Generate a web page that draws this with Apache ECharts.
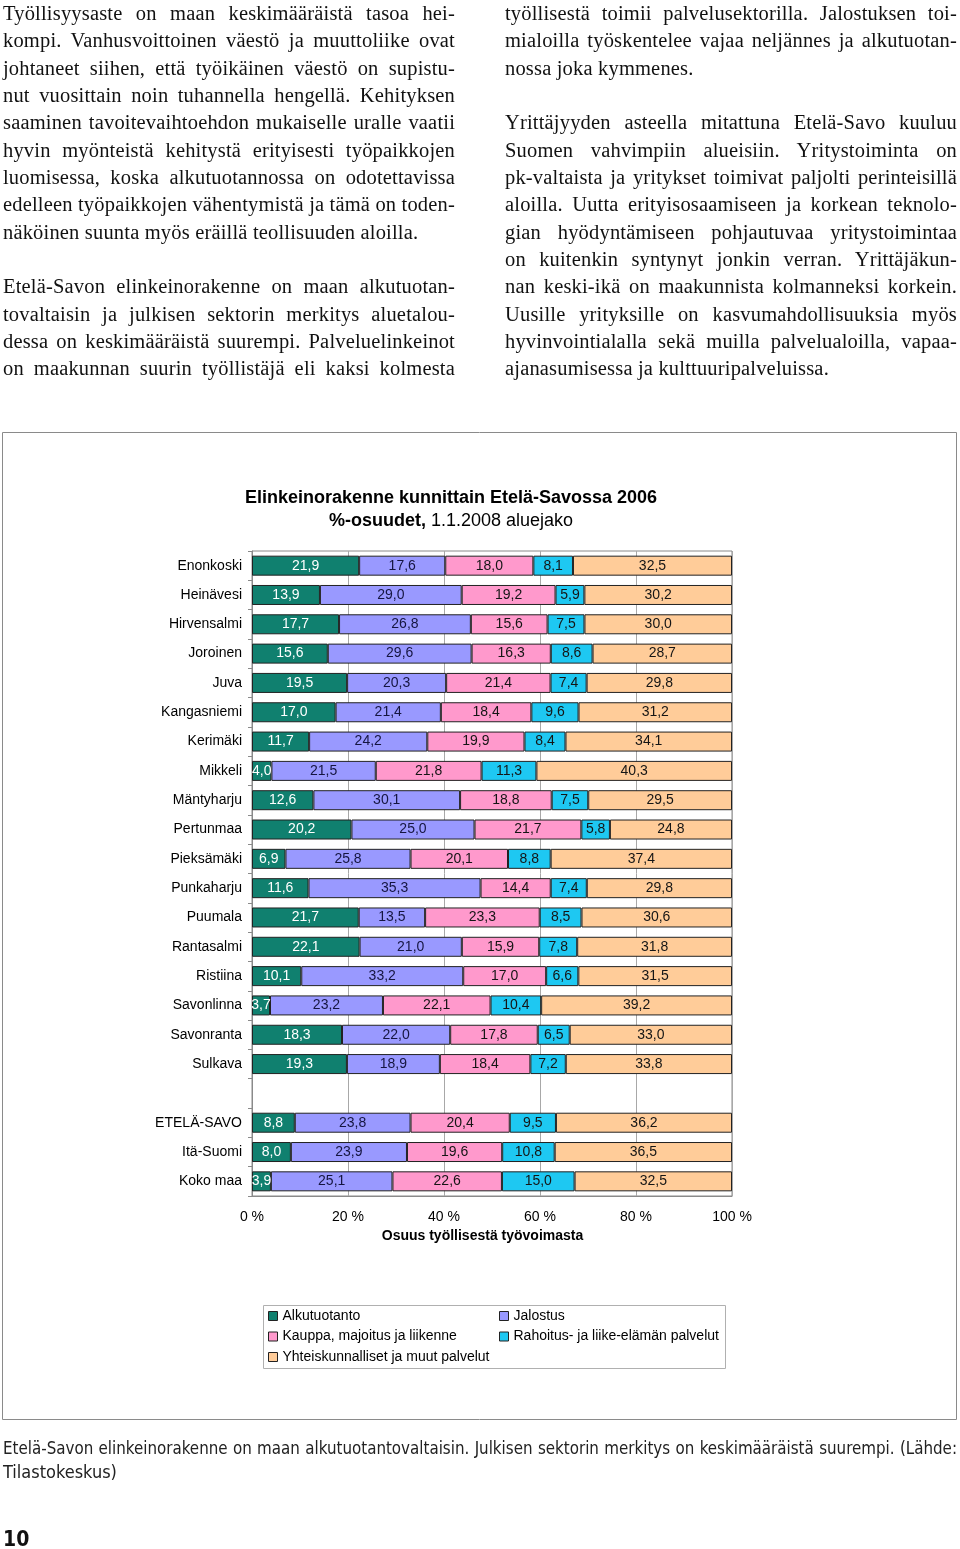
<!DOCTYPE html>
<html>
<head>
<meta charset="utf-8">
<script src="https://cdn.jsdelivr.net/npm/echarts@6/dist/echarts.min.js"></script>
<style>
  html, body { margin:0; padding:0; background:#fff; }
  body { width:960px; height:1549px; position:relative; overflow:hidden; }
  #chart { position:absolute; left:0; top:0; width:960px; height:1549px; }
  .col { position:absolute; top:0; font-family:"Liberation Serif","DejaVu Serif",serif; font-size:20.5px; line-height:27.33px; color:#111; }
  .ln { white-space:nowrap; height:27.33px; text-align:left; }
  .ln.just { text-align:justify; text-align-last:justify; }
  .blank { height:27.33px; }
  .cap { position:absolute; left:3px; width:954px; top:1437px; font-family:"Liberation Sans Narrow","DejaVu Sans Condensed","Liberation Sans",sans-serif; font-size:18px; line-height:23px; color:#222; }
  .pg { position:absolute; left:3px; top:1527px; font-family:"Liberation Sans Narrow","DejaVu Sans Condensed","Liberation Sans",sans-serif; font-weight:bold; font-size:21px; color:#111; }
</style>
</head>
<body>
<div id="chart"></div>

<div class="col" style="left:3px;width:452px;">
  <div class="ln j"><span>Työllisyysaste on maan keskimääräistä tasoa hei-</span></div>
  <div class="ln j"><span>kompi. Vanhusvoittoinen väestö ja muuttoliike ovat</span></div>
  <div class="ln j"><span>johtaneet siihen, että työikäinen väestö on supistu-</span></div>
  <div class="ln j"><span>nut vuosittain noin tuhannella hengellä. Kehityksen</span></div>
  <div class="ln j"><span>saaminen tavoitevaihtoehdon mukaiselle uralle vaatii</span></div>
  <div class="ln j"><span>hyvin myönteistä kehitystä erityisesti työpaikkojen</span></div>
  <div class="ln j"><span>luomisessa, koska alkutuotannossa on odotettavissa</span></div>
  <div class="ln j"><span>edelleen työpaikkojen vähentymistä ja tämä on toden-</span></div>
  <div class="ln"><span>näköinen suunta myös eräillä teollisuuden aloilla.</span></div>
  <div class="blank"></div>
  <div class="ln j"><span>Etelä-Savon elinkeinorakenne on maan alkutuotan-</span></div>
  <div class="ln j"><span>tovaltaisin ja julkisen sektorin merkitys aluetalou-</span></div>
  <div class="ln j"><span>dessa on keskimääräistä suurempi. Palveluelinkeinot</span></div>
  <div class="ln j"><span>on maakunnan suurin työllistäjä eli kaksi kolmesta</span></div>
</div>

<div class="col" style="left:505px;width:452px;">
  <div class="ln j"><span>työllisestä toimii palvelusektorilla. Jalostuksen toi-</span></div>
  <div class="ln j"><span>mialoilla työskentelee vajaa neljännes ja alkutuotan-</span></div>
  <div class="ln"><span>nossa joka kymmenes.</span></div>
  <div class="blank"></div>
  <div class="ln j"><span>Yrittäjyyden asteella mitattuna Etelä-Savo kuuluu</span></div>
  <div class="ln j"><span>Suomen vahvimpiin alueisiin. Yritystoiminta on</span></div>
  <div class="ln j"><span>pk-valtaista ja yritykset toimivat paljolti perinteisillä</span></div>
  <div class="ln j"><span>aloilla. Uutta erityisosaamiseen ja korkean teknolo-</span></div>
  <div class="ln j"><span>gian hyödyntämiseen pohjautuvaa yritystoimintaa</span></div>
  <div class="ln j"><span>on kuitenkin syntynyt jonkin verran. Yrittäjäkun-</span></div>
  <div class="ln j"><span>nan keski-ikä on maakunnista kolmanneksi korkein.</span></div>
  <div class="ln j"><span>Uusille yrityksille on kasvumahdollisuuksia myös</span></div>
  <div class="ln j"><span>hyvinvointialalla sekä muilla palvelualoilla, vapaa-</span></div>
  <div class="ln"><span>ajanasumisessa ja kulttuuripalveluissa.</span></div>
</div>

<div class="cap">
  <div class="ln j cj" style="height:23px"><span>Etelä-Savon elinkeinorakenne on maan alkutuotantovaltaisin. Julkisen sektorin merkitys on keskimääräistä suurempi. (Lähde:</span></div>
  <div class="ln" style="height:23px"><span>Tilastokeskus)</span></div>
</div>
<div class="pg">10</div>

<script>
// ---- data ----
const categories = ['Enonkoski','Heinävesi','Hirvensalmi','Joroinen','Juva','Kangasniemi','Kerimäki','Mikkeli','Mäntyharju','Pertunmaa','Pieksämäki','Punkaharju','Puumala','Rantasalmi','Ristiina','Savonlinna','Savonranta','Sulkava','','ETELÄ-SAVO','Itä-Suomi','Koko maa'];
const alkutuotanto      = [21.9,13.9,17.7,15.6,19.5,17.0,11.7, 4.0,12.6,20.2, 6.9,11.6,21.7,22.1,10.1, 3.7,18.3,19.3,null, 8.8, 8.0, 3.9];
const jalostus          = [17.6,29.0,26.8,29.6,20.3,21.4,24.2,21.5,30.1,25.0,25.8,35.3,13.5,21.0,33.2,23.2,22.0,18.9,null,23.8,23.9,25.1];
const kauppa            = [18.0,19.2,15.6,16.3,21.4,18.4,19.9,21.8,18.8,21.7,20.1,14.4,23.3,15.9,17.0,22.1,17.8,18.4,null,20.4,19.6,22.6];
const rahoitus          = [ 8.1, 5.9, 7.5, 8.6, 7.4, 9.6, 8.4,11.3, 7.5, 5.8, 8.8, 7.4, 8.5, 7.8, 6.6,10.4, 6.5, 7.2,null, 9.5,10.8,15.0];
const yhteiskunnalliset = [32.5,30.2,30.0,28.7,29.8,31.2,34.1,40.3,29.5,24.8,37.4,29.8,30.6,31.8,31.5,39.2,33.0,33.8,null,36.2,36.5,32.5];
const seriesNames = ['Alkutuotanto','Jalostus','Kauppa, majoitus ja liikenne','Rahoitus- ja liike-elämän palvelut','Yhteiskunnalliset ja muut palvelut'];
const xTicks = [0,20,40,60,80,100];

// prose: common letter-spacing so the tightest justified line fills the column, then justify
(function () {
  const lines = Array.from(document.querySelectorAll('.col .ln'));
  const jl = lines.filter(d => d.classList.contains('j'));
  let ls = 10;
  jl.forEach(d => {
    const s = d.firstElementChild;
    const n = s.textContent.length;
    const w = s.getBoundingClientRect().width;
    ls = Math.min(ls, (d.clientWidth - w) / n);
  });
  ls = Math.max(-1, Math.min(ls, 1.2));
  lines.forEach(d => { d.style.letterSpacing = ls + 'px'; });
  // safety: shrink any line that still overflows
  lines.forEach(d => {
    const s = d.firstElementChild; let fs = 20.5, g = 0;
    while (s.getBoundingClientRect().width > d.clientWidth + 0.5 && g < 40) { fs -= 0.2; d.style.fontSize = fs + 'px'; g++; }
  });
  // caption
  document.querySelectorAll('.cap .ln').forEach(d => {
    const s = d.firstElementChild; let fs = 18, g = 0;
    while (s.getBoundingClientRect().width > d.clientWidth && g < 40) { fs -= 0.2; d.style.fontSize = fs + 'px'; g++; }
  });
  document.querySelectorAll('.ln.j').forEach(d => d.classList.add('just'));
})();

const raw = [alkutuotanto, jalostus, kauppa, rahoitus, yhteiskunnalliset];
const totals = categories.map((c, i) => raw.reduce((a, arr) => a + (arr[i] || 0), 0));
const colors = ['#10806f','#9999ff','#ff99cc','#1ec8f2','#ffcc99'];
const labelColors = ['#ffffff','#151540','#151515','#151515','#151515'];
const FONT = '"Liberation Sans", Arial, sans-serif';

const chart = echarts.init(document.getElementById('chart'), null, {renderer:'canvas'});
const series = raw.map((arr, si) => ({
  name: seriesNames[si],
  type: 'bar',
  stack: 'total',
  barWidth: 20,
  data: arr.map((v, i) => v == null ? null : v / totals[i] * 100),
  itemStyle: { color: colors[si], borderColor: '#222', borderWidth: 1 },
  label: {
    show: true, position: 'inside',
    fontFamily: FONT, fontSize: 14, color: labelColors[si],
    formatter: p => { const v = arr[p.dataIndex]; return v == null ? '' : v.toFixed(1).replace('.', ','); }
  },
  emphasis: { disabled: true },
  animation: false
}));

const legendCommon = {
  orient: 'vertical', top: 1309, padding: 0, icon: 'rect',
  itemWidth: 9, itemHeight: 9, itemGap: 6.5, selectedMode: false,
  itemStyle: { borderColor: '#222', borderWidth: 1 },
  textStyle: { fontFamily: FONT, fontSize: 14, lineHeight: 14, color: '#000' }
};

chart.setOption({
  animation: false,
  textStyle: { fontFamily: FONT },
  title: [
    { text: 'Elinkeinorakenne kunnittain Etelä-Savossa 2006', left: 451, top: 489, textAlign: 'center', padding: 0,
      textStyle: { fontFamily: FONT, fontSize: 18, fontWeight: 'bold', color: '#000' } },
    { text: '{b|%-osuudet,} 1.1.2008 aluejako', left: 451, top: 512, textAlign: 'center', padding: 0,
      textStyle: { fontFamily: FONT, fontSize: 18, fontWeight: 'normal', color: '#000',
        rich: { b: { fontFamily: FONT, fontSize: 18, fontWeight: 'bold', color: '#000' } } } }
  ],
  grid: { left: 252, right: 228, top: 551, height: 645, show: true, borderColor: '#8a8a8a', borderWidth: 1, containLabel: false },
  xAxis: {
    type: 'value', min: xTicks[0], max: xTicks[xTicks.length - 1], interval: 20,
    axisLabel: { formatter: '{value} %', fontFamily: FONT, fontSize: 14, color: '#000', margin: 14 },
    axisLine: { show: true, lineStyle: { color: '#8a8a8a' } },
    axisTick: { show: false },
    splitLine: { show: true, lineStyle: { color: '#a8a8a8', width: 1 } },
    name: 'Osuus työllisestä työvoimasta', nameLocation: 'middle', nameGap: 33,
    nameTextStyle: { fontFamily: FONT, fontSize: 14, fontWeight: 'bold', color: '#000', padding: [0, 19, 0, 0] }
  },
  yAxis: {
    type: 'category', data: categories, inverse: true,
    axisLabel: { fontFamily: FONT, fontSize: 14, color: '#000', margin: 10 },
    axisLine: { show: true, lineStyle: { color: '#8a8a8a' } },
    axisTick: { show: true, length: 4, lineStyle: { color: '#8a8a8a' } }
  },
  legend: [
    Object.assign({}, legendCommon, { data: [seriesNames[0], seriesNames[2], seriesNames[4]], left: 268 }),
    Object.assign({}, legendCommon, { data: [seriesNames[1], seriesNames[3]], left: 499 })
  ],
  graphic: [
    { type: 'rect', shape: { x: 2.5, y: 432.5, width: 954, height: 987 }, style: { fill: 'none', stroke: '#8a8a8a', lineWidth: 1 }, silent: true },
    { type: 'rect', shape: { x: 263.5, y: 1305.5, width: 462, height: 63 }, style: { fill: 'none', stroke: '#b0b0b0', lineWidth: 1 }, silent: true }
  ],
  series: series
});
</script>
</body>
</html>
